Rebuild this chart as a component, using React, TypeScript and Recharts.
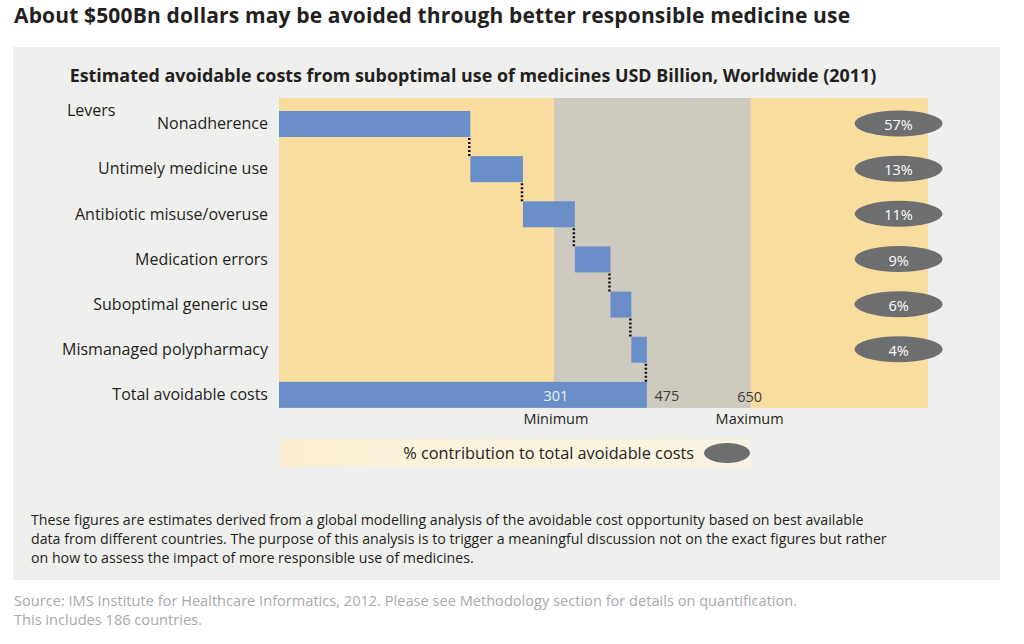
import React from 'react';
import { ComposedChart, Bar, XAxis, YAxis, ReferenceArea, ReferenceDot, LabelList } from 'recharts';

const LEVERS = [
  'Nonadherence',
  'Untimely medicine use',
  'Antibiotic misuse/overuse',
  'Medication errors',
  'Suboptimal generic use',
  'Mismanaged polypharmacy',
];
// USD bn
const LEVER_COSTS = [247, 68, 67, 46, 27, 20];
const LEVER_SHARE = [57, 13, 11, 9, 6, 4];
const TOTAL_NAME = 'Total avoidable costs';
const TOTAL = 475;
// min / max estimate and where the source draws them on its (schematic) scale
const RANGE_LABELS = [301, 650];
const RANGE_POS = [355, 609];
const X_MAX = 838;
const PCT_X = 800;

const FONT = '"Open Sans", sans-serif';
const TAN = '#f8dd9f';
const GREY_BAND = '#cfcac0';
const BLUE = '#6a8fc8';
const PILL = '#6d6e70';
const INK = '#231f20';

let running = 0;
const rows = [
  ...LEVERS.map((name, i) => {
    const row = { name, base: running, value: LEVER_COSTS[i] };
    running += LEVER_COSTS[i];
    return row;
  }),
  { name: TOTAL_NAME, base: 0, value: TOTAL },
];

const WaterfallBar = (props: any) => {
  const { x, y, width, height, index } = props;
  return (
    <g>
      <rect x={x} y={y} width={width} height={height} fill={BLUE} />
      {index < LEVERS.length && (
        <line
          x1={x + width - 1}
          x2={x + width - 1}
          y1={y + height + 1}
          y2={y + height + 19}
          stroke="#111"
          strokeWidth={2.5}
          strokeDasharray="2 2"
        />
      )}
    </g>
  );
};

const TotalLabel = (props: any) => {
  const { x, y, width, height, index, value } = props;
  if (index !== LEVERS.length) return null;
  return (
    <text x={x + width + 20} y={y + height / 2 + 1} textAnchor="middle" dominantBaseline="central" fontSize={14.5} fill="#3b3b3b" fontFamily={FONT}>
      {value}
    </text>
  );
};

const RangeLabels = (props: any) => {
  const { x, y, width, height } = props.viewBox;
  const bottom = y + height;
  return (
    <g fontFamily={FONT} fontSize={14.5} textAnchor="middle">
      <text x={x + width - 1} y={bottom - 12} dominantBaseline="central" fill="#3b3b3b">{RANGE_LABELS[1]}</text>
      <text x={x + 2} y={bottom + 10} dominantBaseline="central" fill={INK}>Minimum</text>
      <text x={x + width - 1} y={bottom + 10} dominantBaseline="central" fill={INK}>Maximum</text>
    </g>
  );
};

const MinLabel = (props: any) => {
  const { cx, cy } = props;
  return (
    <text x={cx + 2} y={cy + 1} textAnchor="middle" dominantBaseline="central" fontSize={14.5} fill="#e8eef8" fontFamily={FONT}>
      {RANGE_LABELS[0]}
    </text>
  );
};

const Pill = (props: any) => {
  const { cx, cy, label } = props;
  return (
    <g>
      <ellipse cx={cx} cy={cy} rx={44} ry={13} fill={PILL} />
      <text x={cx} y={cy + 1} textAnchor="middle" dominantBaseline="central" fontSize={14.5} fill="#fff" fontFamily={FONT}>
        {label}
      </text>
    </g>
  );
};

export default function App() {
  return (
    <div style={{ position: 'absolute', left: 0, top: 0, width: 1024, height: 644, background: '#fff', fontFamily: FONT, color: INK, overflow: 'hidden' }}>
      <div style={{ position: 'absolute', left: 14, top: 1, fontSize: 21, fontWeight: 700, whiteSpace: 'nowrap', letterSpacing: 0.15 }}>
        About $500Bn dollars may be avoided through better responsible medicine use
      </div>
      <div style={{ position: 'absolute', left: 13, top: 47, width: 987, height: 533, background: '#efefed' }} />
      <div style={{ position: 'absolute', left: 0, top: 63, width: 946, textAlign: 'center', fontSize: 17.9, fontWeight: 700, whiteSpace: 'nowrap' }}>
        Estimated avoidable costs from suboptimal use of medicines USD Billion, Worldwide (2011)
      </div>
      <div style={{ position: 'absolute', left: 67, top: 99, fontSize: 16 }}>Levers</div>

      <div style={{ position: 'absolute', left: 0, top: 0 }}>
        <ComposedChart layout="vertical" width={1024} height={440} data={rows} margin={{ top: 98, right: 96, bottom: 32, left: 0 }} barSize={26}>
          <XAxis type="number" domain={[0, X_MAX]} hide />
          <YAxis
            type="category"
            dataKey="name"
            width={279}
            interval={0}
            tickLine={false}
            axisLine={false}
            tickSize={0}
            tickMargin={11}
            padding={{ top: 3, bottom: -9 }}
            tick={{ fontSize: 16, fill: INK, fontFamily: FONT }}
          />
          {/* plain 0..1 axis spanning the whole plot, for the background bands */}
          <YAxis yAxisId="band" type="number" dataKey="base" domain={[0, 1]} allowDataOverflow hide />
          <ReferenceArea yAxisId="band" x1={0} x2={X_MAX} y1={0} y2={1} fill={TAN} fillOpacity={1} stroke="none" />
          <ReferenceArea
            yAxisId="band"
            x1={RANGE_POS[0]}
            x2={RANGE_POS[1]}
            y1={0}
            y2={1}
            fill={GREY_BAND}
            fillOpacity={1}
            stroke="none"
            label={(p: any) => <RangeLabels {...p} />}
          />
          <Bar dataKey="base" stackId="w" fill="transparent" isAnimationActive={false} />
          <Bar dataKey="value" stackId="w" fill={BLUE} shape={WaterfallBar} isAnimationActive={false}>
            <LabelList dataKey="value" content={TotalLabel} />
          </Bar>
          <ReferenceDot x={RANGE_POS[0]} y={TOTAL_NAME} r={0} ifOverflow="visible" shape={MinLabel} />
          {LEVERS.map((name, i) => (
            <ReferenceDot
              key={name}
              x={PCT_X}
              y={name}
              r={0}
              ifOverflow="visible"
              shape={(p: any) => <Pill {...p} label={`${LEVER_SHARE[i]}%`} />}
            />
          ))}
        </ComposedChart>
      </div>

      <div
        style={{
          position: 'absolute',
          left: 280,
          top: 439,
          width: 470,
          height: 28,
          background: 'linear-gradient(to right, #fbefd2, #fbf3dd 40%, #f9f3e2)',
        }}
      />
      <div style={{ position: 'absolute', left: 280, top: 439, width: 414, height: 28, lineHeight: '28px', textAlign: 'right', fontSize: 16.3, whiteSpace: 'nowrap' }}>
        % contribution to total avoidable costs
      </div>
      <svg style={{ position: 'absolute', left: 700, top: 440 }} width={56} height={26}>
        <ellipse cx={27} cy={13} rx={23} ry={10} fill={PILL} />
      </svg>

      <div style={{ position: 'absolute', left: 31, top: 510, fontSize: 14.2, lineHeight: '19px', whiteSpace: 'nowrap' }}>
        <div>These figures are estimates derived from a global modelling analysis of the avoidable cost opportunity based on best available</div>
        <div>data from different countries. The purpose of this analysis is to trigger a meaningful discussion not on the exact figures but rather</div>
        <div>on how to assess the impact of more responsible use of medicines.</div>
      </div>
      <div style={{ position: 'absolute', left: 14, top: 591, fontSize: 14.6, lineHeight: '19px', color: '#a7a9ac', whiteSpace: 'nowrap' }}>
        <div>Source: IMS Institute for Healthcare Informatics, 2012. Please see Methodology section for details on quantification.</div>
        <div>This includes 186 countries.</div>
      </div>
    </div>
  );
}
